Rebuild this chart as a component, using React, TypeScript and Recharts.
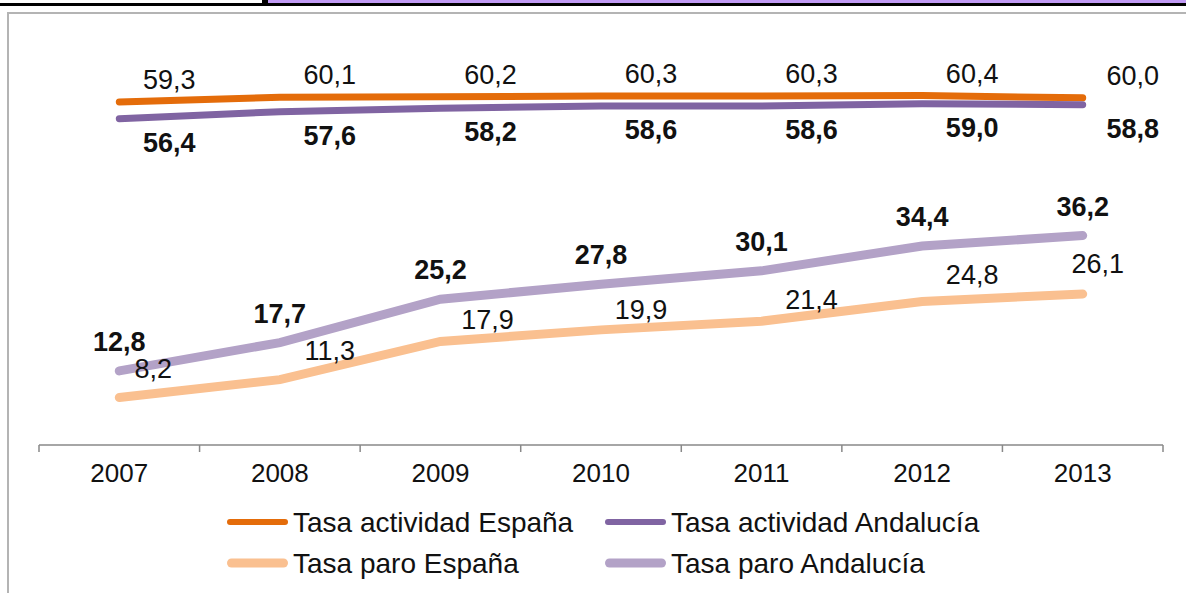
import React from 'react';
import { LineChart, Line, XAxis, YAxis, LabelList } from 'recharts';

// datos (%)
const years = ['2007', '2008', '2009', '2010', '2011', '2012', '2013'];
const actividadEspana = [59.3, 60.1, 60.2, 60.3, 60.3, 60.4, 60.0];
const actividadAndalucia = [56.4, 57.6, 58.2, 58.6, 58.6, 59.0, 58.8];
const paroEspana = [8.2, 11.3, 17.9, 19.9, 21.4, 24.8, 26.1];
const paroAndalucia = [12.8, 17.7, 25.2, 27.8, 30.1, 34.4, 36.2];

// desplazamientos de etiquetas (a mano, como en el original)
const nudgeParoEspana: [number, number][] = [
  [34, -29], [50, -29], [47, -21], [40, -20], [50, -21], [50, -27], [15, -30],
];

const data = years.map((year, i) => ({
  year,
  actEsp: actividadEspana[i],
  actAnd: actividadAndalucia[i],
  paroEsp: paroEspana[i],
  paroAnd: paroAndalucia[i],
}));

const COLORS = {
  actEsp: '#E46C0A',
  actAnd: '#8064A2',
  paroEsp: '#FAC090',
  paroAnd: '#B3A2C7',
};

const FONT = '"Liberation Sans", Arial, sans-serif';
const W = 1186;
const H = 593;
const PLOT_LEFT = 39;
const PLOT_RIGHT = 1163;
const PAD = (PLOT_RIGHT - PLOT_LEFT) / 14;
const STEP = (PLOT_RIGHT - PLOT_LEFT - 2 * PAD) / 6;

const fmt = (v: number) => v.toFixed(1).replace('.', ',');

const makeLabel = (dx: number, dy: number, bold: boolean, nudges?: [number, number][]) =>
  (props: any) => {
    const { x, y, value, index } = props;
    const [ox, oy] = nudges ? nudges[index] : [dx, dy];
    return (
      <text
        x={x + ox}
        y={y + oy}
        textAnchor="middle"
        dominantBaseline="central"
        fontFamily={FONT}
        fontSize={27}
        fontWeight={bold ? 700 : 400}
        fill="#111"
      >
        {fmt(Number(value))}
      </text>
    );
  };

const YearTick = (props: any) => {
  const { x, y, payload, index, visibleTicksCount } = props;
  const last = index === (visibleTicksCount ?? years.length) - 1;
  return (
    <g>
      <line x1={x - STEP / 2} x2={x - STEP / 2} y1={y} y2={y + 7} stroke="#898989" strokeWidth={1.5} />
      {last && <line x1={x + STEP / 2} x2={x + STEP / 2} y1={y} y2={y + 7} stroke="#898989" strokeWidth={1.5} />}
      <text
        x={x}
        y={y + 28}
        textAnchor="middle"
        dominantBaseline="central"
        fontFamily={FONT}
        fontSize={26}
        fill="#111"
      >
        {payload.value}
      </text>
    </g>
  );
};

const legendItems = [
  { name: 'Tasa actividad España', color: COLORS.actEsp, width: 6, x: 227, y: 522 },
  { name: 'Tasa actividad Andalucía', color: COLORS.actAnd, width: 6, x: 605, y: 522 },
  { name: 'Tasa paro España', color: COLORS.paroEsp, width: 9, x: 227, y: 563 },
  { name: 'Tasa paro Andalucía', color: COLORS.paroAnd, width: 9, x: 605, y: 563 },
];

export default function App() {
  return (
    <div
      style={{
        position: 'absolute',
        left: 0,
        top: 0,
        width: W,
        height: H,
        overflow: 'hidden',
        background: '#fff',
      }}
    >
      {/* bandas superiores */}
      <div style={{ position: 'absolute', left: 262, top: 0, width: 6, height: 3, background: '#000' }} />
      <div style={{ position: 'absolute', left: 268, top: 0, width: W - 268, height: 3, background: '#C19AF5' }} />
      <div style={{ position: 'absolute', left: 0, top: 3, width: W, height: 3, background: '#000' }} />
      {/* marco del gráfico */}
      <div
        style={{
          position: 'absolute',
          left: 7,
          top: 12,
          width: 1300,
          height: 700,
          border: '2px solid #B4B4B4',
        }}
      />

      <div style={{ position: 'absolute', left: 0, top: 0 }}>
        <LineChart
          width={W}
          height={H}
          data={data}
          margin={{ top: 40, left: PLOT_LEFT, right: W - PLOT_RIGHT, bottom: 118 }}
        >
          <XAxis
            dataKey="year"
            height={30}
            padding={{ left: PAD, right: PAD }}
            axisLine={{ stroke: '#898989', strokeWidth: 1.5 }}
            tickLine={false}
            tickSize={0}
            tickMargin={0}
            tick={<YearTick />}
            interval={0}
          />
          <YAxis hide domain={[0, 70]} />
          <Line
            dataKey="actEsp"
            stroke={COLORS.actEsp}
            strokeWidth={7}
            strokeLinecap="round"
            dot={false}
            activeDot={false}
            isAnimationActive={false}
          >
            <LabelList dataKey="actEsp" content={makeLabel(50, -22, false)} />
          </Line>
          <Line
            dataKey="actAnd"
            stroke={COLORS.actAnd}
            strokeWidth={7}
            strokeLinecap="round"
            dot={false}
            activeDot={false}
            isAnimationActive={false}
          >
            <LabelList dataKey="actAnd" content={makeLabel(50, 24, true)} />
          </Line>
          <Line
            dataKey="paroEsp"
            stroke={COLORS.paroEsp}
            strokeWidth={9}
            strokeLinecap="round"
            dot={false}
            activeDot={false}
            isAnimationActive={false}
          >
            <LabelList dataKey="paroEsp" content={makeLabel(0, 0, false, nudgeParoEspana)} />
          </Line>
          <Line
            dataKey="paroAnd"
            stroke={COLORS.paroAnd}
            strokeWidth={9}
            strokeLinecap="round"
            dot={false}
            activeDot={false}
            isAnimationActive={false}
          >
            <LabelList dataKey="paroAnd" content={makeLabel(0, -29, true)} />
          </Line>
        </LineChart>
      </div>

      {/* leyenda */}
      <svg width={W} height={H} style={{ position: 'absolute', left: 0, top: 0, pointerEvents: 'none' }}>
        {legendItems.map((it) => (
          <g key={it.name}>
            <line
              x1={it.x + it.width / 2}
              x2={it.x + 61 - it.width / 2}
              y1={it.y}
              y2={it.y}
              stroke={it.color}
              strokeWidth={it.width}
              strokeLinecap="round"
            />
            <text
              x={it.x + 66}
              y={it.y}
              dominantBaseline="central"
              fontFamily={FONT}
              fontSize={28}
              fill="#111"
            >
              {it.name}
            </text>
          </g>
        ))}
      </svg>
    </div>
  );
}
